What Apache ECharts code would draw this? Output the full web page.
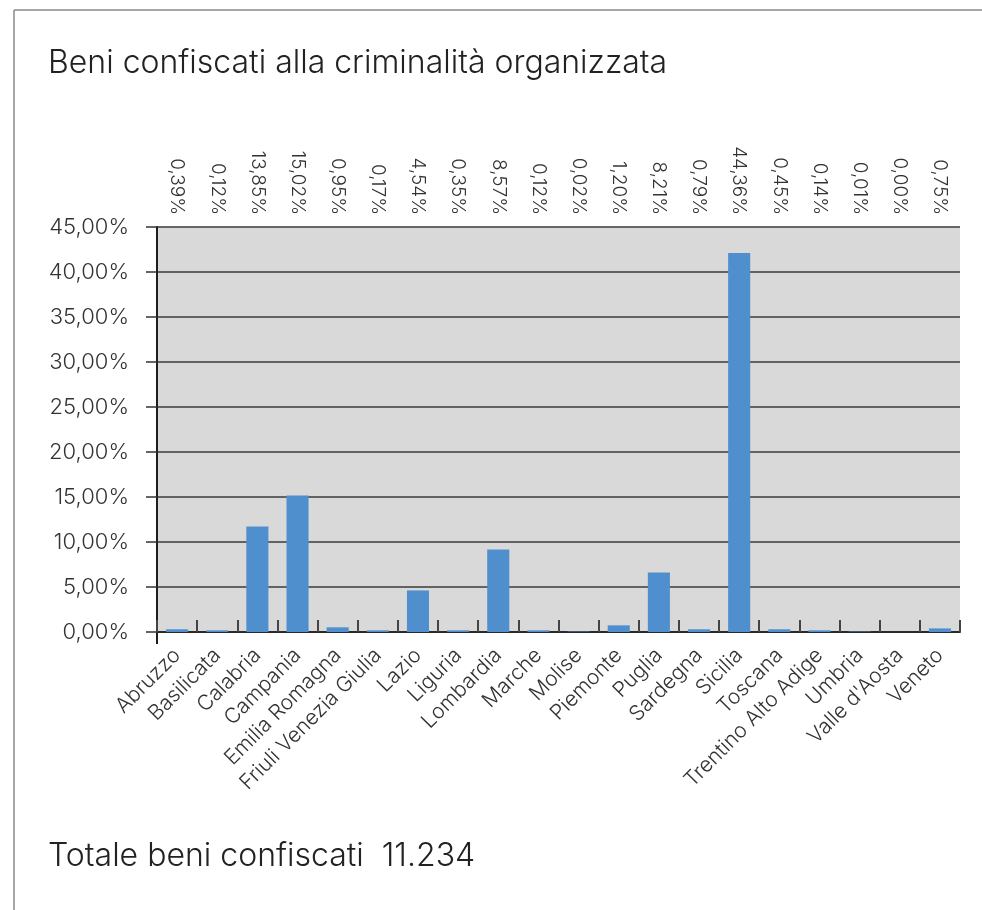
<!DOCTYPE html>
<html><head><meta charset="utf-8">
<script src="https://cdn.jsdelivr.net/npm/echarts@6/dist/echarts.min.js"></script>
<style>html,body{margin:0;padding:0;background:#fff}#c{width:982px;height:910px}</style>
</head><body><div id="c"></div>
<script>
const categories = ["Abruzzo","Basilicata","Calabria","Campania","Emilia Romagna","Friuli Venezia Giulia","Lazio","Liguria","Lombardia","Marche","Molise","Piemonte","Puglia","Sardegna","Sicilia","Toscana","Trentino Alto Adige","Umbria","Valle d'Aosta","Veneto"];
const barValues = [0.30,0.19,11.72,15.16,0.52,0.19,4.62,0.19,9.17,0.19,0.05,0.74,6.62,0.30,42.1,0.30,0.19,0.05,0.0,0.40];
const topLabels = ["0,39%","0,12%","13,85%","15,02%","0,95%","0,17%","4,54%","0,35%","8,57%","0,12%","0,02%","1,20%","8,21%","0,79%","44,36%","0,45%","0,14%","0,01%","0,00%","0,75%"];
const yTicks = [0,5,10,15,20,25,30,35,40,45];
const titleText = "Beni confiscati alla criminalità organizzata";
const footerText = "Totale beni confiscati  11.234";

const FONT = "Inter";
const W = 300;
const chart = echarts.init(document.getElementById('c'), null, {renderer:'canvas'});
const border = [
  {type:'line', shape:{x1:14,y1:10,x2:982,y2:10}, style:{stroke:'#8a8a8a', lineWidth:1.5}},
  {type:'line', shape:{x1:14,y1:10,x2:14,y2:910}, style:{stroke:'#8a8a8a', lineWidth:1.5}}
];
chart.setOption({
  animation:false,
  backgroundColor:'#fff',
  title:[
    {text:titleText, left:43, top:42, textStyle:{fontFamily:FONT, fontSize:32, fontWeight:W, color:'#222'}},
    {text:footerText, left:43, top:835, textStyle:{fontFamily:FONT, fontSize:32, fontWeight:W, color:'#222'}}
  ],
  grid:{left:157, right:22, top:227, bottom:278, show:true, backgroundColor:'#d9d9d9', borderWidth:0},
  xAxis:[
    {type:'category', data:categories, position:'bottom',
     axisLine:{lineStyle:{color:'#2a2a2a', width:2}},
     axisTick:{show:true, inside:true, length:12, alignWithLabel:false, lineStyle:{color:'#444', width:2}},
     axisLabel:{rotate:45, margin:20, interval:0, fontFamily:FONT, fontSize:21, fontWeight:W, color:'#333'}},
    {type:'category', data:topLabels, position:'top',
     axisLine:{show:false}, axisTick:{show:false},
     axisLabel:{rotate:90, margin:12, interval:0, fontFamily:FONT, fontSize:19, fontWeight:W, color:'#333'}}
  ],
  yAxis:{type:'value', min:yTicks[0], max:yTicks[yTicks.length-1], interval:5,
     axisLine:{show:true, lineStyle:{color:'#1e1e1e', width:2}},
     axisTick:{show:true, length:11, lineStyle:{color:'#333', width:1.5}},
     splitLine:{lineStyle:{color:'#3a3a3a', width:1.5}},
     axisLabel:{margin:28, fontFamily:FONT, fontSize:22, fontWeight:W, color:'#333',
       formatter:v=>v.toFixed(2).replace('.',',')+'%'}},
  series:[{type:'bar', data:barValues, barWidth:'55%', xAxisIndex:0,
     itemStyle:{color:'#4f8fcd'}}],
  graphic:border
});
const p0 = chart.convertToPixel({yAxisIndex:0}, 0);
const gx = chart.getModel().getComponent('grid').coordinateSystem.getRect().x;
chart.setOption({graphic:border.concat([
  {type:'line', shape:{x1:gx,y1:p0,x2:gx,y2:p0+12}, style:{stroke:'#1e1e1e', lineWidth:2}}
])});
</script></body></html>
